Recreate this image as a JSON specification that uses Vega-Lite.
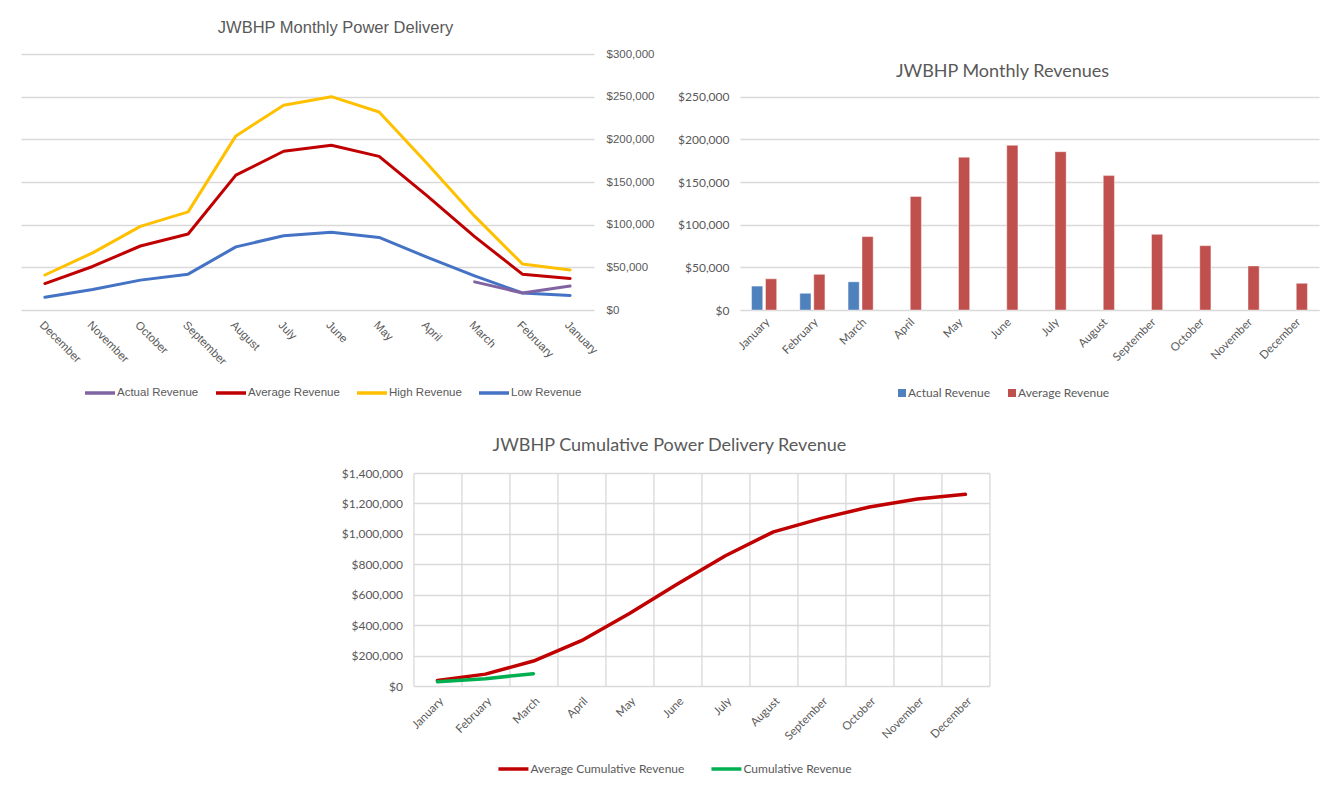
{
  "$schema": "https://vega.github.io/schema/vega-lite/v6.json",
  "padding": {"left": 21, "top": 19, "right": 10, "bottom": 5},
  "background": "white",
  "config": {
    "view": {"stroke": null},
    "axis": {"labelColor": "#595959", "gridColor": "#d9d9d9", "gridWidth": 1.3, "domain": false, "ticks": false, "title": null},
    "legend": {"labelColor": "#595959", "title": null},
    "title": {"color": "#595959", "fontWeight": "normal", "anchor": "middle"}
  },
  "datasets": {
    "delivery": [
      {"month": "January", "series": "Low Revenue", "value": 17000},
      {"month": "February", "series": "Low Revenue", "value": 20000},
      {"month": "March", "series": "Low Revenue", "value": 40000},
      {"month": "April", "series": "Low Revenue", "value": 62000},
      {"month": "May", "series": "Low Revenue", "value": 85000},
      {"month": "June", "series": "Low Revenue", "value": 91000},
      {"month": "July", "series": "Low Revenue", "value": 87000},
      {"month": "August", "series": "Low Revenue", "value": 74000},
      {"month": "September", "series": "Low Revenue", "value": 42000},
      {"month": "October", "series": "Low Revenue", "value": 35000},
      {"month": "November", "series": "Low Revenue", "value": 24000},
      {"month": "December", "series": "Low Revenue", "value": 15000},
      {"month": "January", "series": "High Revenue", "value": 47000},
      {"month": "February", "series": "High Revenue", "value": 54000},
      {"month": "March", "series": "High Revenue", "value": 110000},
      {"month": "April", "series": "High Revenue", "value": 172000},
      {"month": "May", "series": "High Revenue", "value": 232000},
      {"month": "June", "series": "High Revenue", "value": 250000},
      {"month": "July", "series": "High Revenue", "value": 240000},
      {"month": "August", "series": "High Revenue", "value": 204000},
      {"month": "September", "series": "High Revenue", "value": 115000},
      {"month": "October", "series": "High Revenue", "value": 98000},
      {"month": "November", "series": "High Revenue", "value": 67000},
      {"month": "December", "series": "High Revenue", "value": 41000},
      {"month": "January", "series": "Average Revenue", "value": 37000},
      {"month": "February", "series": "Average Revenue", "value": 42000},
      {"month": "March", "series": "Average Revenue", "value": 86000},
      {"month": "April", "series": "Average Revenue", "value": 134000},
      {"month": "May", "series": "Average Revenue", "value": 180000},
      {"month": "June", "series": "Average Revenue", "value": 193000},
      {"month": "July", "series": "Average Revenue", "value": 186000},
      {"month": "August", "series": "Average Revenue", "value": 158000},
      {"month": "September", "series": "Average Revenue", "value": 89000},
      {"month": "October", "series": "Average Revenue", "value": 75000},
      {"month": "November", "series": "Average Revenue", "value": 51000},
      {"month": "December", "series": "Average Revenue", "value": 31000},
      {"month": "January", "series": "Actual Revenue", "value": 28000},
      {"month": "February", "series": "Actual Revenue", "value": 20000},
      {"month": "March", "series": "Actual Revenue", "value": 33000}
    ],
    "revenues": [
      {"month": "January", "series": "Actual Revenue", "value": 28000},
      {"month": "February", "series": "Actual Revenue", "value": 19500},
      {"month": "March", "series": "Actual Revenue", "value": 33000},
      {"month": "January", "series": "Average Revenue", "value": 36500},
      {"month": "February", "series": "Average Revenue", "value": 41800},
      {"month": "March", "series": "Average Revenue", "value": 86000},
      {"month": "April", "series": "Average Revenue", "value": 133000},
      {"month": "May", "series": "Average Revenue", "value": 179000},
      {"month": "June", "series": "Average Revenue", "value": 193000},
      {"month": "July", "series": "Average Revenue", "value": 185500},
      {"month": "August", "series": "Average Revenue", "value": 157500},
      {"month": "September", "series": "Average Revenue", "value": 88700},
      {"month": "October", "series": "Average Revenue", "value": 75400},
      {"month": "November", "series": "Average Revenue", "value": 51600},
      {"month": "December", "series": "Average Revenue", "value": 31300}
    ],
    "cumulative": [
      {"month": "January", "series": "Average Cumulative Revenue", "value": 36000},
      {"month": "February", "series": "Average Cumulative Revenue", "value": 78000},
      {"month": "March", "series": "Average Cumulative Revenue", "value": 164000},
      {"month": "April", "series": "Average Cumulative Revenue", "value": 298000},
      {"month": "May", "series": "Average Cumulative Revenue", "value": 477000},
      {"month": "June", "series": "Average Cumulative Revenue", "value": 670000},
      {"month": "July", "series": "Average Cumulative Revenue", "value": 856000},
      {"month": "August", "series": "Average Cumulative Revenue", "value": 1013000},
      {"month": "September", "series": "Average Cumulative Revenue", "value": 1102000},
      {"month": "October", "series": "Average Cumulative Revenue", "value": 1177000},
      {"month": "November", "series": "Average Cumulative Revenue", "value": 1229000},
      {"month": "December", "series": "Average Cumulative Revenue", "value": 1260000},
      {"month": "January", "series": "Cumulative Revenue", "value": 28000},
      {"month": "February", "series": "Cumulative Revenue", "value": 48000},
      {"month": "March", "series": "Cumulative Revenue", "value": 81000}
    ]
  },
  "vconcat": [
    {
      "hconcat": [
        {
          "width": 573,
          "height": 256,
          "title": {"text": "JWBHP Monthly Power Delivery", "font": "Liberation Sans", "fontSize": 16.5, "dx": 28, "offset": 12},
          "data": {"name": "delivery"},
          "mark": {"type": "line", "strokeWidth": 3, "strokeCap": "round", "strokeJoin": "round"},
          "encoding": {
            "x": {
              "field": "month", "type": "nominal",
              "scale": {"type": "point", "padding": 0.5, "domain": ["December", "November", "October", "September", "August", "July", "June", "May", "April", "March", "February", "January"]},
              "axis": {"labelAngle": 45, "labelFont": "Liberation Sans", "labelFontSize": 11.5, "labelPadding": 9, "grid": false}
            },
            "y": {
              "field": "value", "type": "quantitative",
              "scale": {"domain": [0, 300000], "nice": false},
              "axis": {"orient": "right", "values": [0, 50000, 100000, 150000, 200000, 250000, 300000], "format": "$,.0f", "labelFont": "Liberation Sans", "labelFontSize": 11.5, "labelPadding": 12}
            },
            "color": {
              "field": "series", "type": "nominal",
              "scale": {"domain": ["Actual Revenue", "Average Revenue", "High Revenue", "Low Revenue"], "range": ["#8064A2", "#C00000", "#FFC000", "#4472C4"]},
              "legend": {"orient": "none", "direction": "horizontal", "legendX": 62, "legendY": 322, "symbolType": "stroke", "symbolStrokeWidth": 3.5, "symbolSize": 900, "labelFont": "Liberation Sans", "labelFontSize": 11.5, "columnPadding": 10, "labelOffset": 0}
            }
          }
        },
        {
          "width": 579,
          "height": 256,
          "title": {"text": "JWBHP Monthly Revenues", "font": "Lato", "fontSize": 18, "offset": 12, "dx": -27, "dy": 39},
          "data": {"name": "revenues"},
          "mark": {"type": "bar", "stroke": "white", "strokeOpacity": 0.5, "strokeWidth": 0.8},
          "encoding": {
            "x": {
              "field": "month", "type": "nominal",
              "scale": {"type": "band", "paddingInner": 0.48, "paddingOuter": 0.24, "domain": ["January", "February", "March", "April", "May", "June", "July", "August", "September", "October", "November", "December"]},
              "axis": {"labelAngle": -45, "labelFont": "Lato", "labelFontSize": 11.5, "labelPadding": 6, "domain": true, "domainColor": "#d9d9d9", "grid": false}
            },
            "xOffset": {"field": "series", "type": "nominal", "scale": {"domain": ["Actual Revenue", "Average Revenue"], "paddingInner": 0.2}},
            "y": {
              "field": "value", "type": "quantitative",
              "scale": {"domain": [0, 300000], "nice": false},
              "axis": {"values": [0, 50000, 100000, 150000, 200000, 250000], "format": "$,.0f", "labelFont": "Lato", "labelFontSize": 12, "labelPadding": 11}
            },
            "color": {
              "field": "series", "type": "nominal",
              "scale": {"domain": ["Actual Revenue", "Average Revenue"], "range": ["#4F81BD", "#C0504D"]},
              "legend": {"orient": "none", "direction": "horizontal", "legendX": 156, "legendY": 333, "symbolType": "square", "symbolSize": 64, "symbolStrokeWidth": 0, "labelFont": "Lato", "labelFontSize": 12, "columnPadding": 16, "labelOffset": 0}
            }
          }
        }
      ],
      "spacing": 23,
      "resolve": {"scale": {"color": "independent"}, "legend": {"color": "independent"}}
    },
    {
      "width": 576,
      "height": 213,
      "title": {"text": "JWBHP Cumulative Power Delivery Revenue", "font": "Lato", "fontSize": 18, "offset": 12, "dx": 15},
      "data": {"name": "cumulative"},
      "mark": {"type": "line", "strokeWidth": 3.5, "strokeCap": "round", "strokeJoin": "round"},
      "encoding": {
        "x": {
          "field": "month", "type": "nominal", "bandPosition": 0.5,
          "scale": {"type": "band", "paddingInner": 0, "paddingOuter": 0, "range": [47, 623], "domain": ["January", "February", "March", "April", "May", "June", "July", "August", "September", "October", "November", "December"]},
          "axis": {"labelAngle": -45, "labelFont": "Lato", "labelFontSize": 11.5, "labelPadding": 9, "tickBand": "extent", "grid": true}
        },
        "y": {
          "field": "value", "type": "quantitative",
          "scale": {"domain": [0, 1400000], "nice": false},
          "axis": {"values": [0, 200000, 400000, 600000, 800000, 1000000, 1200000, 1400000], "format": "$,.0f", "labelFont": "Lato", "labelFontSize": 12, "labelPadding": 11, "offset": -47}
        },
        "color": {
          "field": "series", "type": "nominal",
          "scale": {"domain": ["Average Cumulative Revenue", "Cumulative Revenue"], "range": ["#C00000", "#00B050"]},
          "legend": {"orient": "none", "direction": "horizontal", "legendX": 130, "legendY": 279, "symbolType": "stroke", "symbolStrokeWidth": 3.5, "symbolSize": 900, "labelFont": "Lato", "labelFontSize": 12, "columnPadding": 20, "labelOffset": 0}
        }
      }
    }
  ],
  "spacing": 37,
  "center": true,
  "resolve": {"scale": {"color": "independent"}, "legend": {"color": "independent"}}
}
